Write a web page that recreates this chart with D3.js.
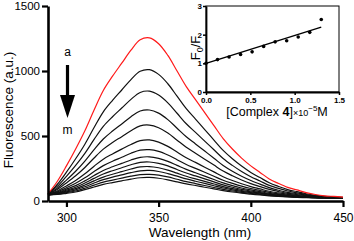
<!DOCTYPE html>
<html>
<head>
<meta charset="utf-8">
<script src="https://cdn.jsdelivr.net/npm/d3@7"></script>
<style>
body { margin: 0; background: #fff; }
svg { display: block; font-family: "Liberation Sans", Arial, sans-serif; }
</style>
</head>
<body>
<svg id="chart" width="354" height="241"></svg>
<script>
// wavelength grid (nm) shared by all spectra
var wavelengths = [290, 295, 300, 305, 310, 315, 320, 325, 330, 335, 340, 345, 350, 355, 360, 365, 370,
    375, 380, 385, 390, 395, 400, 405, 410, 415, 420, 425, 430, 435, 440, 445, 450];

// emission spectra, a (free) down to m (most quenched)
var specA = [55, 150, 270, 400, 540, 700, 850, 960, 1060, 1160, 1240, 1255, 1210, 1120, 1000, 880, 780, 680, 580, 480, 400, 330, 270, 220, 170, 135, 105, 85, 65, 50, 40, 35, 30];
var specB = [53, 127, 222, 325, 437, 565, 686, 774, 854, 934, 998, 1010, 974, 902, 806, 710, 630, 549, 469, 389, 325, 269, 220, 180, 140, 112, 88, 72, 56, 44, 36, 32, 28];
var specC = [52, 112, 190, 274, 367, 474, 574, 648, 715, 782, 835, 845, 815, 755, 675, 594, 528, 461, 394, 327, 274, 227, 187, 154, 120, 97, 77, 63, 50, 40, 33, 30, 27];
var specD = [51, 98, 161, 229, 307, 395, 477, 538, 593, 648, 692, 700, 676, 626, 560, 494, 439, 384, 329, 273, 229, 191, 158, 130, 103, 83, 67, 56, 45, 37, 31, 28, 26];
var specE = [50, 88, 139, 194, 258, 331, 399, 450, 495, 541, 578, 584, 564, 523, 468, 413, 367, 322, 276, 230, 194, 162, 134, 111, 89, 73, 59, 50, 41, 34, 29, 27, 25];
var specF = [49, 77, 116, 158, 209, 268, 322, 362, 399, 435, 464, 470, 453, 420, 377, 333, 297, 260, 224, 187, 158, 133, 111, 93, 75, 62, 51, 44, 36, 31, 27, 25, 24];
var specG = [48, 70, 102, 136, 178, 227, 272, 306, 336, 367, 391, 395, 382, 354, 318, 281, 251, 221, 190, 160, 136, 114, 96, 81, 66, 55, 46, 40, 34, 29, 26, 25, 23];
var specH = [48, 65, 91, 118, 155, 196, 235, 263, 289, 315, 336, 340, 328, 305, 274, 243, 217, 191, 165, 139, 118, 100, 85, 72, 59, 50, 42, 37, 32, 28, 25, 24, 23];
var specI = [47, 61, 83, 106, 138, 174, 208, 233, 256, 279, 297, 300, 290, 270, 242, 215, 193, 170, 147, 124, 106, 90, 77, 65, 54, 46, 39, 35, 30, 27, 25, 23, 22];
var specJ = [47, 58, 76, 95, 123, 155, 184, 206, 226, 246, 262, 265, 256, 238, 214, 190, 170, 151, 131, 111, 95, 81, 70, 60, 50, 43, 37, 33, 29, 26, 24, 23, 22];
var specK = [47, 55, 70, 86, 110, 138, 164, 184, 201, 218, 232, 235, 227, 211, 191, 170, 152, 135, 117, 100, 86, 74, 64, 55, 46, 40, 35, 31, 28, 25, 23, 23, 22];
var specL = [47, 52, 64, 77, 98, 122, 145, 161, 176, 191, 203, 205, 199, 185, 167, 149, 134, 119, 104, 89, 77, 67, 58, 50, 43, 37, 33, 30, 27, 25, 23, 22, 22];
var specM = [46, 50, 59, 69, 88, 108, 128, 142, 155, 168, 179, 181, 175, 163, 147, 132, 119, 106, 93, 80, 69, 60, 53, 46, 40, 35, 31, 28, 26, 24, 23, 22, 21];

var spectra = [specA, specB, specC, specD, specE, specF, specG, specH, specI, specJ, specK, specL, specM];

// Stern-Volmer inset
var complexConc = [0, 0.13, 0.26, 0.39, 0.52, 0.65, 0.78, 0.91, 1.04, 1.17, 1.30];
var f0OverF = [1.0, 1.13, 1.22, 1.31, 1.40, 1.59, 1.75, 1.79, 1.92, 2.08, 2.53];
var fitLine = [1.0, 0.97]; // intercept, slope

var mainXTicks = [300, 350, 400, 450];
var mainYTicks = [0, 500, 1000, 1500];
var insetXTicks = [0, 0.5, 1.0, 1.5];
var insetYTicks = [0, 1, 2, 3];

var svg = d3.select("#chart");

var x = d3.scaleLinear().domain([290, 450]).range([48, 343]);
var y = d3.scaleLinear().domain([0, 1500]).range([201, 6]);

// spectra
var line = d3.line()
    .x(function (d, i) { return x(wavelengths[i]); })
    .y(function (d) { return y(d); })
    .curve(d3.curveCatmullRom);

// draw black ones first so the red one sits on top
for (var k = spectra.length - 1; k >= 0; k--) {
    svg.append("path")
        .datum(spectra[k])
        .attr("fill", "none")
        .attr("stroke", k === 0 ? "#ff1a1a" : "#111")
        .attr("stroke-width", 1.2)
        .attr("d", line);
}

// main axes
var gx = svg.append("g")
    .attr("transform", "translate(0,201)")
    .call(d3.axisBottom(x).tickValues(mainXTicks).tickSize(6).tickSizeOuter(0).tickPadding(6));
var gy = svg.append("g")
    .attr("transform", "translate(48,0)")
    .call(d3.axisLeft(y).tickValues(mainYTicks).tickFormat(d3.format("d")).tickSize(6).tickSizeOuter(0).tickPadding(2));

[gx, gy].forEach(function (g) {
    g.select(".domain").attr("stroke", "#000").attr("stroke-width", 2.6);
    g.selectAll(".tick line").attr("stroke", "#000").attr("stroke-width", 2.2);
    g.selectAll(".tick text").attr("fill", "#000").style("font-family", "Liberation Sans, Arial, sans-serif");
});
gx.selectAll(".tick text").style("font-size", "12px");
gy.selectAll(".tick text").style("font-size", "11.5px");

svg.append("text")
    .attr("x", 200).attr("y", 237)
    .attr("text-anchor", "middle")
    .style("font-size", "13.5px")
    .text("Wavelength (nm)");

svg.append("text")
    .attr("transform", "translate(13,110) rotate(-90)")
    .attr("text-anchor", "middle")
    .style("font-size", "13.5px")
    .text("Fluorescence (a.u.)");

// arrow a -> m
svg.append("line")
    .attr("x1", 67.5).attr("y1", 65).attr("x2", 67.5).attr("y2", 96)
    .attr("stroke", "#000").attr("stroke-width", 3.2);
svg.append("path")
    .attr("d", "M60,95 L75,95 L67.5,118 Z")
    .attr("fill", "#000");
svg.append("text").attr("x", 67.5).attr("y", 56).attr("text-anchor", "middle")
    .style("font-size", "12px").text("a");
svg.append("text").attr("x", 67.5).attr("y", 134).attr("text-anchor", "middle")
    .style("font-size", "12px").text("m");

// inset
var xi = d3.scaleLinear().domain([0, 1.5]).range([206, 339]);
var yi = d3.scaleLinear().domain([0, 3]).range([92, 6]);

svg.append("rect")
    .attr("x", xi(0)).attr("y", yi(3))
    .attr("width", xi(1.5) - xi(0)).attr("height", yi(0) - yi(3))
    .attr("fill", "none").attr("stroke", "#000").attr("stroke-width", 1);

var gxi = svg.append("g")
    .attr("transform", "translate(0," + yi(0) + ")")
    .call(d3.axisBottom(xi).tickValues(insetXTicks).tickFormat(d3.format(".1f")).tickSize(3).tickSizeOuter(0).tickPadding(2));
var gyi = svg.append("g")
    .attr("transform", "translate(" + xi(0) + ",0)")
    .call(d3.axisLeft(yi).tickValues(insetYTicks).tickFormat(d3.format("d")).tickSize(3).tickSizeOuter(0).tickPadding(1));

[gxi, gyi].forEach(function (g) {
    g.select(".domain").attr("stroke", "#000").attr("stroke-width", 1.8);
    g.selectAll(".tick line").attr("stroke", "#000").attr("stroke-width", 1.5);
    g.selectAll(".tick text").attr("fill", "#000")
        .style("font-size", "8px").style("font-weight", "bold")
        .style("font-family", "Liberation Sans, Arial, sans-serif");
});

svg.append("line")
    .attr("x1", xi(0)).attr("y1", yi(fitLine[0]))
    .attr("x2", xi(complexConc[complexConc.length - 1]))
    .attr("y2", yi(fitLine[0] + fitLine[1] * complexConc[complexConc.length - 1]))
    .attr("stroke", "#000").attr("stroke-width", 1.4);

svg.selectAll("circle.pt")
    .data(complexConc)
    .enter().append("circle")
    .attr("class", "pt")
    .attr("cx", function (d) { return xi(d); })
    .attr("cy", function (d, i) { return yi(f0OverF[i]); })
    .attr("r", 1.8)
    .attr("fill", "#000");

var xl = svg.append("text")
    .attr("x", 277).attr("y", 116)
    .attr("text-anchor", "middle")
    .style("font-size", "12.5px");
xl.append("tspan").text("[Complex ");
xl.append("tspan").style("font-weight", "bold").text("4");
xl.append("tspan").text("]");
xl.append("tspan").style("font-size", "9px").text("\u00d710");
xl.append("tspan").attr("dy", -5).style("font-size", "8px").text("\u22125");
xl.append("tspan").attr("dy", 5).text("M");

var yl = svg.append("text")
    .attr("transform", "translate(200,48) rotate(-90)")
    .attr("text-anchor", "middle")
    .style("font-size", "13px");
yl.append("tspan").text("F");
yl.append("tspan").attr("dy", 3).style("font-size", "9px").text("0");
yl.append("tspan").attr("dy", -3).text("/F");
</script>
</body>
</html>
